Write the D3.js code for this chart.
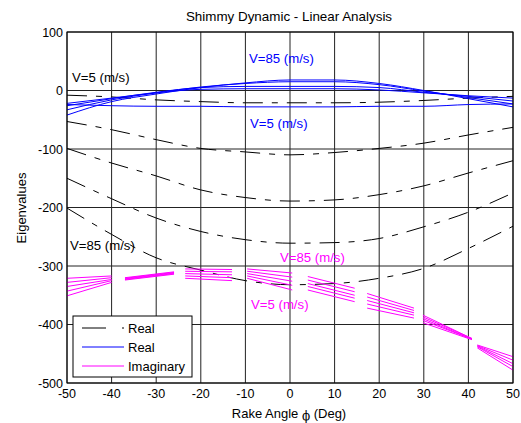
<!DOCTYPE html>
<html>
<head>
  <meta charset="UTF-8">
  <title>Shimmy Dynamic</title>
  <style>
    body { margin: 0; background: #fff; }
    text { font-family: "Liberation Sans", Arial, sans-serif; }
  </style>
</head>
<body>
<svg></svg>
<script src="https://d3js.org/d3.v7.min.js"></script>
<script>

let width = 521, height = 423;

// rake angle samples (deg)
let phi = [-50, -40, -30, -20, -10, 0, 10, 20, 30, 40, 50];

// real parts, black dash-dot family
let blackReal = [
  [-8, -11, -16, -19, -21, -21, -21, -20, -17, -13, -10],
  [-53, -67, -84, -99, -105, -110, -106, -99, -90, -76, -63],
  [-99, -124, -146, -170, -183, -189, -187, -178, -163, -141, -120],
  [-150, -185, -218, -241, -255, -261, -260, -253, -233, -208, -175],
  [-201, -246, -286, -307, -325, -332, -330, -321, -304, -270, -232]
];

// real parts, blue family (V = 85, 65, 45, 25, 5)
let blueReal = [
  [-42, -19, -6, 5, 13, 18, 18, 12, 0, -14, -28],
  [-33, -16, -4, 6, 12, 15, 15, 10, -1, -12, -23],
  [-26, -14, -3, 5, 7, 7, 7, 5, -3, -10, -18],
  [-22, -13, -4, 2, 3, 3, 3, 1, -4, -9, -13],
  [-24, -26, -27, -27, -28, -28, -28, -27, -27, -24, -23]
];

// imaginary parts, plotted in pieces: [phi start, phi end, values at start, values at end]
let imagPieces = [
  [-50, -40, [-321, -328, -335, -343, -351], [-317, -320, -323, -325, -328]],
  [-37, -26, [-320, -321, -322, -323, -324], [-310, -311, -312, -313, -314]],
  [-23.5, -13, [-305, -309, -313, -317, -321], [-306, -310, -315, -320, -325]],
  [-9.6, 0.5, [-305, -309, -313, -317, -321], [-312, -319, -326, -333, -341]],
  [4, 14.5, [-318, -324, -330, -335, -341], [-338, -344, -350, -355, -361]],
  [17.3, 27.8, [-347, -353, -359, -365, -372], [-372, -376, -380, -384, -389]],
  [29.8, 40.8, [-384, -387, -390, -393, -397], [-424, -424, -425, -425, -426]],
  [42, 50, [-435, -436, -437, -438, -440], [-455, -461, -467, -472, -478]]
];

let xTicks = [-50, -40, -30, -20, -10, 0, 10, 20, 30, 40, 50];
let yTicks = [-500, -400, -300, -200, -100, 0, 100];

let svg = d3.select("svg")
    .attr("width", width)
    .attr("height", height);

let x = d3.scaleLinear().domain([-50, 50]).range([67, 513]);
let y = d3.scaleLinear().domain([-500, 100]).range([383, 32]);

// grid
svg.append("g")
  .selectAll("line")
  .data(xTicks)
  .enter().append("line")
    .attr("x1", d => x(d)).attr("x2", d => x(d))
    .attr("y1", y(-500)).attr("y2", y(100))
    .attr("stroke", "#222").attr("stroke-width", 1);

svg.append("g")
  .selectAll("line")
  .data(yTicks)
  .enter().append("line")
    .attr("x1", x(-50)).attr("x2", x(50))
    .attr("y1", d => y(d)).attr("y2", d => y(d))
    .attr("stroke", "#222").attr("stroke-width", 1);

let line = d3.line()
    .x((d, i) => x(phi[i]))
    .y(d => y(d))
    .curve(d3.curveMonotoneX);

// black dash-dot curves
svg.append("g")
  .selectAll("path")
  .data(blackReal)
  .enter().append("path")
    .attr("d", line)
    .attr("fill", "none")
    .attr("stroke", "black")
    .attr("stroke-width", 1)
    .attr("stroke-dasharray", "20,9,6,9");

// blue curves
svg.append("g")
  .selectAll("path")
  .data(blueReal)
  .enter().append("path")
    .attr("d", line)
    .attr("fill", "none")
    .attr("stroke", "#0000ff")
    .attr("stroke-width", 1);

// magenta pieces
let pieceLines = [];
imagPieces.forEach(p => {
  p[2].forEach((v, k) => {
    pieceLines.push([[p[0], v], [p[1], p[3][k]]]);
  });
});

svg.append("g")
  .selectAll("path")
  .data(pieceLines)
  .enter().append("path")
    .attr("d", d3.line().x(d => x(d[0])).y(d => y(d[1])))
    .attr("fill", "none")
    .attr("stroke", "#ff00ff")
    .attr("stroke-width", 1);

// axes box
svg.append("rect")
    .attr("x", x(-50)).attr("y", y(100))
    .attr("width", x(50) - x(-50)).attr("height", y(-500) - y(100))
    .attr("fill", "none").attr("stroke", "black").attr("stroke-width", 1);

// tick labels
svg.append("g")
  .selectAll("text")
  .data(yTicks)
  .enter().append("text")
    .attr("x", x(-50) - 4)
    .attr("y", d => y(d))
    .attr("dy", "0.36em")
    .attr("text-anchor", "end")
    .style("font-size", "12.5px")
    .text(d => d);

svg.append("g")
  .selectAll("text")
  .data(xTicks)
  .enter().append("text")
    .attr("x", d => x(d))
    .attr("y", 398)
    .attr("text-anchor", "middle")
    .style("font-size", "12.5px")
    .text(d => d);

// titles
svg.append("text")
    .attr("x", 289).attr("y", 21)
    .attr("text-anchor", "middle")
    .style("font-size", "13.4px")
    .text("Shimmy Dynamic - Linear Analysis");

let xl = svg.append("text")
    .attr("x", 289).attr("y", 418)
    .attr("text-anchor", "middle")
    .style("font-size", "13px");
xl.append("tspan").text("Rake Angle ");
xl.append("tspan").attr("font-family", "DejaVu Serif").style("font-size", "12px").attr("dy", 2).text("\u03d5");
xl.append("tspan").attr("dy", -2).text(" (Deg)");

svg.append("text")
    .attr("transform", "translate(26," + 208 + ") rotate(-90)")
    .attr("text-anchor", "middle")
    .style("font-size", "13px")
    .text("Eigenvalues");

// annotations
let notes = [
  ["V=5 (m/s)", 72, 82, "black"],
  ["V=85 (m/s)", 249, 63, "#0000ff"],
  ["V=5 (m/s)", 250, 128, "#0000ff"],
  ["V=85 (m/s)", 70, 250, "black"],
  ["V=85 (m/s)", 280, 262, "#ff00ff"],
  ["V=5 (m/s)", 251, 309, "#ff00ff"]
];
svg.append("g")
  .selectAll("text")
  .data(notes)
  .enter().append("text")
    .attr("x", d => d[1]).attr("y", d => d[2])
    .attr("fill", d => d[3])
    .style("font-size", "13.2px")
    .text(d => d[0]);

// legend
let lg = svg.append("g").attr("transform", "translate(73,316)");
lg.append("rect")
    .attr("width", 119).attr("height", 61)
    .attr("fill", "white").attr("stroke", "black").attr("stroke-width", 1);
let legendItems = [["Real", "black", "24,16,2,40"], ["Real", "#0000ff", null], ["Imaginary", "#ff00ff", null]];
legendItems.forEach((d, i) => {
  let ly = 12 + i * 19;
  lg.append("line")
    .attr("x1", 9).attr("x2", 51)
    .attr("y1", ly).attr("y2", ly)
    .attr("stroke", d[1]).attr("stroke-width", 1)
    .attr("stroke-dasharray", d[2]);
  lg.append("text")
    .attr("x", 55).attr("y", ly).attr("dy", "0.36em")
    .style("font-size", "13px")
    .text(d[0]);
});

</script>
</body>
</html>
